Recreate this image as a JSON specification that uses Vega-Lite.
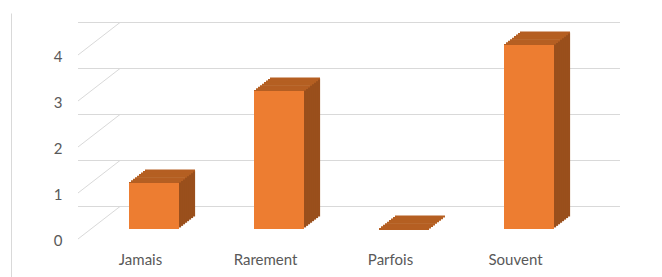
{
  "$schema": "https://vega.github.io/schema/vega-lite/v6.json",
  "autosize": "none",
  "width": 500,
  "height": 264,
  "padding": {"left": 78, "top": 13, "right": 84, "bottom": 0},
  "background": "#ffffff",
  "config": {
    "view": {"stroke": null},
    "axis": {"labelFont": "Lato", "labelFontSize": 15, "labelColor": "#595959", "ticks": false, "tickSize": 0, "domain": false, "grid": false, "title": null}
  },
  "datasets": {
    "bars": [
      {"cat": "Jamais", "n": 1},
      {"cat": "Rarement", "n": 3},
      {"cat": "Parfois", "n": 0},
      {"cat": "Souvent", "n": 4}
    ],
    "grid": [{"v": 0}, {"v": 1}, {"v": 2}, {"v": 3}, {"v": 4}]
  },
  "data": {"name": "bars"},
  "resolve": {"scale": {"y": "shared"}, "axis": {"y": "independent"}},
  "layer": [
    {
      "data": {"name": "grid"},
      "mark": {"type": "rule", "color": "#D9D9D9", "strokeWidth": 1, "xOffset": 42, "x2Offset": 42, "yOffset": -32.5},
      "encoding": {
        "y": {"field": "v", "type": "quantitative", "scale": {"domain": [-0.8261, 4.913], "nice": false, "zero": false},
          "axis": {"orient": "left", "offset": 67, "domain": true, "domainColor": "#D9D9D9", "labels": false, "ticks": false, "grid": false}}
      }
    },
    {
      "data": {"name": "grid"},
      "mark": {"type": "rule", "color": "#D9D9D9", "strokeWidth": 1, "x2Offset": 42, "y2Offset": -32.5},
      "encoding": {
        "x": {"datum": "Jamais", "type": "nominal", "bandPosition": 0},
        "x2": {"datum": "Jamais", "bandPosition": 0},
        "y": {"field": "v", "type": "quantitative", "axis": {"orient": "left", "values": [0, 1, 2, 3, 4], "labelPadding": 16, "labelOffset": 2}},
        "y2": {"field": "v"}
      }
    },
    {"mark": {"type": "rule", "color": "#9A4F1C", "strokeWidth": 2.2, "strokeCap": "butt", "xOffset": 39.5, "yOffset": -11.5625, "y2Offset": -11.5625},
      "encoding": {"x": {"field": "cat", "type": "nominal", "sort": null, "bandPosition": 0.5}, "y": {"field": "n", "type": "quantitative", "axis": null}, "y2": {"datum": 0}}},
    {"mark": {"type": "rule", "color": "#9A4F1C", "strokeWidth": 2.2, "strokeCap": "butt", "xOffset": 41.5, "yOffset": -13.125, "y2Offset": -13.125},
      "encoding": {"x": {"field": "cat", "type": "nominal", "sort": null, "bandPosition": 0.5}, "y": {"field": "n", "type": "quantitative", "axis": null}, "y2": {"datum": 0}}},
    {"mark": {"type": "rule", "color": "#9A4F1C", "strokeWidth": 2.2, "strokeCap": "butt", "xOffset": 43.5, "yOffset": -14.6875, "y2Offset": -14.6875},
      "encoding": {"x": {"field": "cat", "type": "nominal", "sort": null, "bandPosition": 0.5}, "y": {"field": "n", "type": "quantitative", "axis": null}, "y2": {"datum": 0}}},
    {"mark": {"type": "rule", "color": "#9A4F1C", "strokeWidth": 2.2, "strokeCap": "butt", "xOffset": 45.5, "yOffset": -16.25, "y2Offset": -16.25},
      "encoding": {"x": {"field": "cat", "type": "nominal", "sort": null, "bandPosition": 0.5}, "y": {"field": "n", "type": "quantitative", "axis": null}, "y2": {"datum": 0}}},
    {"mark": {"type": "rule", "color": "#9A4F1C", "strokeWidth": 2.2, "strokeCap": "butt", "xOffset": 47.5, "yOffset": -17.8125, "y2Offset": -17.8125},
      "encoding": {"x": {"field": "cat", "type": "nominal", "sort": null, "bandPosition": 0.5}, "y": {"field": "n", "type": "quantitative", "axis": null}, "y2": {"datum": 0}}},
    {"mark": {"type": "rule", "color": "#9A4F1C", "strokeWidth": 2.2, "strokeCap": "butt", "xOffset": 49.5, "yOffset": -19.375, "y2Offset": -19.375},
      "encoding": {"x": {"field": "cat", "type": "nominal", "sort": null, "bandPosition": 0.5}, "y": {"field": "n", "type": "quantitative", "axis": null}, "y2": {"datum": 0}}},
    {"mark": {"type": "rule", "color": "#9A4F1C", "strokeWidth": 2.2, "strokeCap": "butt", "xOffset": 51.5, "yOffset": -20.9375, "y2Offset": -20.9375},
      "encoding": {"x": {"field": "cat", "type": "nominal", "sort": null, "bandPosition": 0.5}, "y": {"field": "n", "type": "quantitative", "axis": null}, "y2": {"datum": 0}}},
    {"mark": {"type": "rule", "color": "#9A4F1C", "strokeWidth": 2.2, "strokeCap": "butt", "xOffset": 53.5, "yOffset": -22.5, "y2Offset": -22.5},
      "encoding": {"x": {"field": "cat", "type": "nominal", "sort": null, "bandPosition": 0.5}, "y": {"field": "n", "type": "quantitative", "axis": null}, "y2": {"datum": 0}}},
    {"mark": {"type": "tick", "color": "#B55F22", "size": 50, "thickness": 2.2, "opacity": 1, "xOffset": 13.5, "yOffset": -10},
      "encoding": {"x": {"field": "cat", "type": "nominal", "sort": null}, "y": {"field": "n", "type": "quantitative", "axis": null}}},
    {"mark": {"type": "tick", "color": "#B55F22", "size": 50, "thickness": 2.2, "opacity": 1, "xOffset": 15.5, "yOffset": -11.5625},
      "encoding": {"x": {"field": "cat", "type": "nominal", "sort": null}, "y": {"field": "n", "type": "quantitative", "axis": null}}},
    {"mark": {"type": "tick", "color": "#B55F22", "size": 50, "thickness": 2.2, "opacity": 1, "xOffset": 17.5, "yOffset": -13.125},
      "encoding": {"x": {"field": "cat", "type": "nominal", "sort": null}, "y": {"field": "n", "type": "quantitative", "axis": null}}},
    {"mark": {"type": "tick", "color": "#B55F22", "size": 50, "thickness": 2.2, "opacity": 1, "xOffset": 19.5, "yOffset": -14.6875},
      "encoding": {"x": {"field": "cat", "type": "nominal", "sort": null}, "y": {"field": "n", "type": "quantitative", "axis": null}}},
    {"mark": {"type": "tick", "color": "#B55F22", "size": 50, "thickness": 2.2, "opacity": 1, "xOffset": 21.5, "yOffset": -16.25},
      "encoding": {"x": {"field": "cat", "type": "nominal", "sort": null}, "y": {"field": "n", "type": "quantitative", "axis": null}}},
    {"mark": {"type": "tick", "color": "#B55F22", "size": 50, "thickness": 2.2, "opacity": 1, "xOffset": 23.5, "yOffset": -17.8125},
      "encoding": {"x": {"field": "cat", "type": "nominal", "sort": null}, "y": {"field": "n", "type": "quantitative", "axis": null}}},
    {"mark": {"type": "tick", "color": "#B55F22", "size": 50, "thickness": 2.2, "opacity": 1, "xOffset": 25.5, "yOffset": -19.375},
      "encoding": {"x": {"field": "cat", "type": "nominal", "sort": null}, "y": {"field": "n", "type": "quantitative", "axis": null}}},
    {"mark": {"type": "tick", "color": "#B55F22", "size": 50, "thickness": 2.2, "opacity": 1, "xOffset": 27.5, "yOffset": -20.9375},
      "encoding": {"x": {"field": "cat", "type": "nominal", "sort": null}, "y": {"field": "n", "type": "quantitative", "axis": null}}},
    {"mark": {"type": "tick", "color": "#B55F22", "size": 50, "thickness": 2.2, "opacity": 1, "xOffset": 29.5, "yOffset": -22.5},
      "encoding": {"x": {"field": "cat", "type": "nominal", "sort": null}, "y": {"field": "n", "type": "quantitative", "axis": null}}},
    {
      "mark": {"type": "bar", "color": "#ED7D31", "width": 50, "xOffset": 13.5, "yOffset": -10, "y2Offset": -10},
      "encoding": {
        "x": {"field": "cat", "type": "nominal", "sort": null, "scale": {"paddingInner": 0, "paddingOuter": 0},
          "axis": {"orient": "bottom", "offset": -38, "labelPadding": 13, "labelAngle": 0, "labelAlign": "center", "labelBaseline": "top"}},
        "y": {"field": "n", "type": "quantitative", "axis": null},
        "y2": {"datum": 0}
      }
    }
  ]
}
